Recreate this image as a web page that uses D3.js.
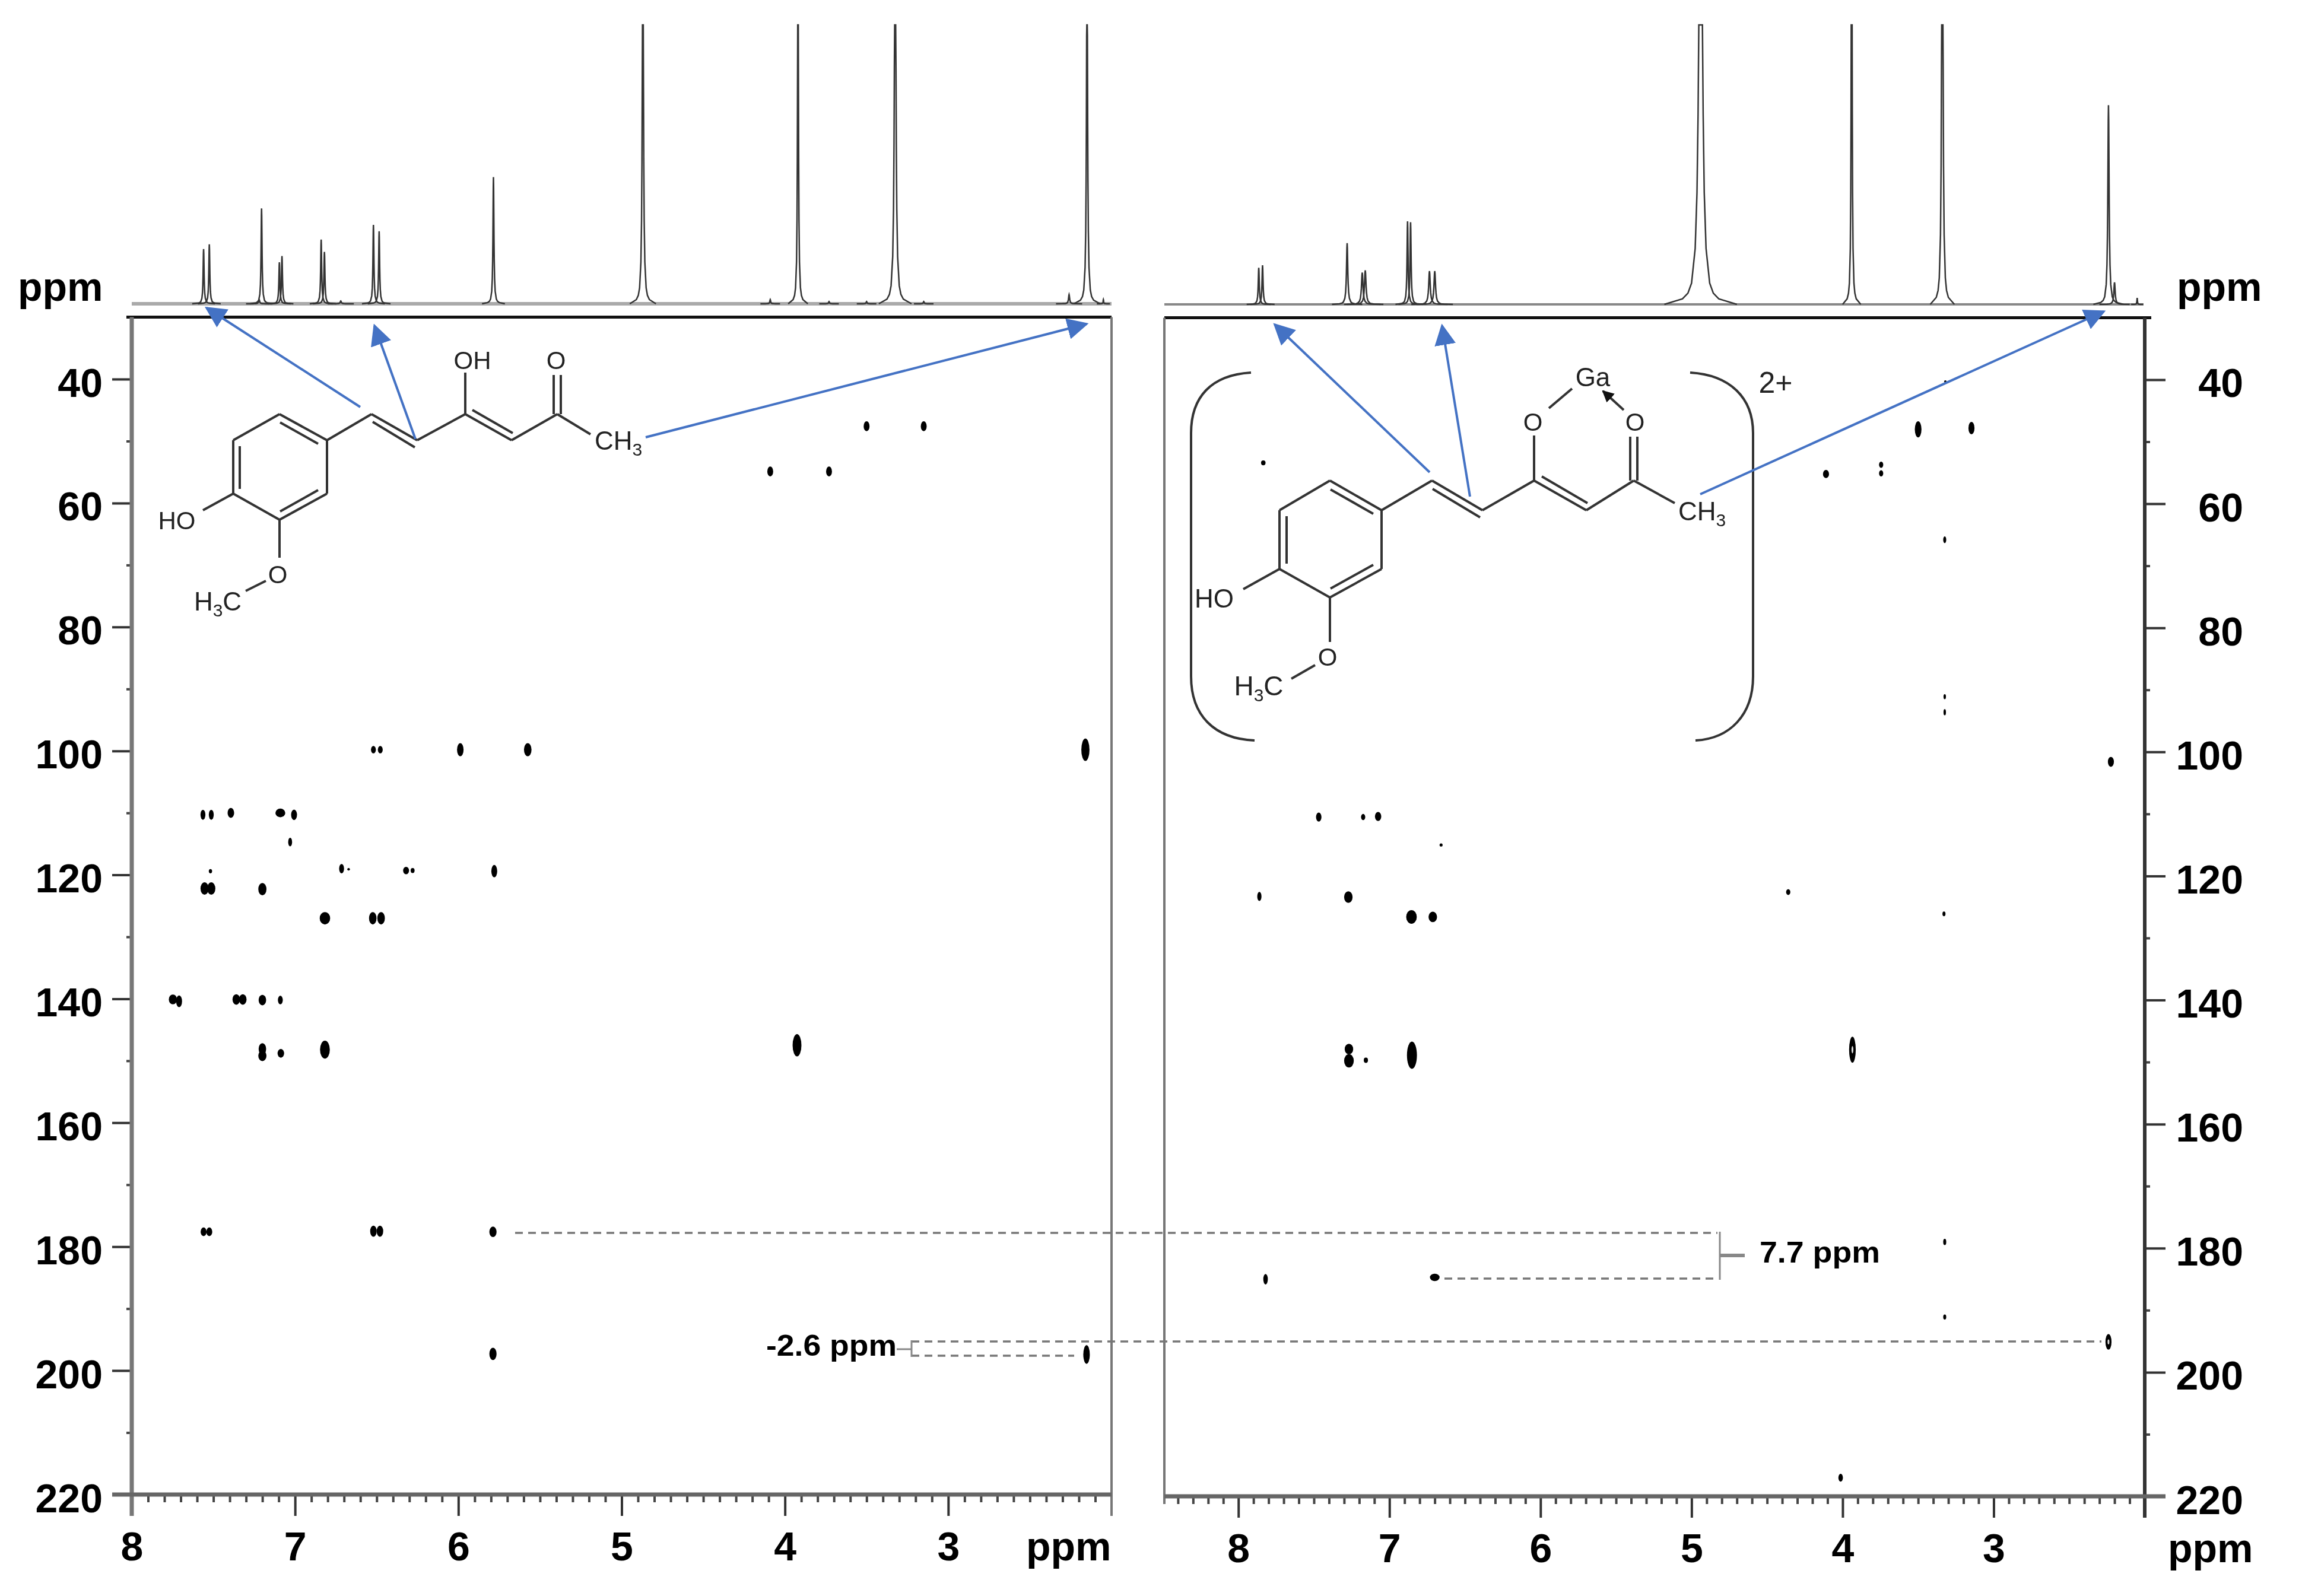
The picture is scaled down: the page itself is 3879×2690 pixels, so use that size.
<!DOCTYPE html>
<html>
<head>
<meta charset="utf-8">
<script src="https://cdn.jsdelivr.net/npm/d3@7"></script>
<style>
html, body { margin: 0; padding: 0; background: #fff; }
svg { display: block; filter: blur(0.7px); }
text { font-family: "Liberation Sans", Arial, sans-serif; fill: #000; }
.num { font-size: 68px; font-weight: 700; }
.atom { font-size: 42px; fill: #222; }
.note { font-size: 50px; font-weight: 700; }
</style>
</head>
<body>
<div id="chart"></div>
<script>
// tick labels
var xLabels = [8, 7, 6, 5, 4, 3];
var yLabels = [40, 60, 80, 100, 120, 140, 160, 180, 200, 220];
var yMinor = [50, 70, 90, 110, 130, 150, 170, 190, 210];

// 1H traces: [ppm, height (100 = top of the strip), half width in ppm]
var leftProton = [
    [7.56, 19.6, .0035], [7.525, 21.3, .0035], [7.22, 1.5, .004], [7.205, 34.2, .0035],
    [7.096, 14.9, .0035], [7.08, 17.1, .0035], [6.84, 23, .0035], [6.82, 18.6, .0035],
    [6.72, 1, .004], [6.52, 28.3, .0035], [6.485, 26, .0035], [5.785, 45.4, .0035],
    [4.87, 150, .004], [4.09, 1.5, .003], [3.92, 150, .003], [3.73, .8, .003],
    [3.5, .8, .003], [3.325, 170, .005], [3.15, .8, .003], [2.26, 3.3, .004],
    [2.15, 130, .004], [2.05, 1.5, .002]
];
var rightProton = [
    [7.865, 13.1, .004], [7.84, 14, .004], [7.28, 21.9, .005], [7.18, 11.4, .006],
    [7.16, 12.2, .006], [6.88, 29.7, .004], [6.86, 29.4, .004], [6.735, 11.9, .006],
    [6.7, 11.9, .006], [4.94, 200, .012], [3.94, 200, .003], [3.34, 250, .004],
    [2.24, 71.3, .005], [2.2, 7.9, .005], [2.05, 2.3, .002]
];

// HMBC cross peaks: [1H ppm, 13C ppm, half width 1H, half width 13C]
var leftCross = [
    [3.5, 47.6, .018, .8], [3.15, 47.6, .018, .8], [4.09, 54.9, .018, .8], [3.73, 54.9, .018, .8],
    [6.52, 99.8, .015, .6], [6.478, 99.8, .015, .6], [5.988, 99.8, .02, 1.07], [5.575, 99.8, .023, 1.07],
    [2.16, 99.8, .025, 1.8],
    [7.564, 110.3, .015, .8], [7.513, 110.3, .015, .8], [7.393, 110, .02, .8], [7.09, 110, .03, .7],
    [7.006, 110.3, .018, .85], [7.03, 114.7, .012, .7],
    [7.518, 119.4, .01, .35], [6.715, 119, .015, .75], [6.672, 119.1, .008, .2],
    [6.32, 119.3, .018, .6], [6.28, 119.3, .012, .4], [5.78, 119.4, .018, 1],
    [7.554, 122.2, .025, 1], [7.513, 122.2, .025, 1], [7.2, 122.3, .025, 1],
    [6.817, 127, .032, 1], [6.524, 127, .023, 1], [6.473, 127, .023, 1],
    [7.748, 140.1, .025, .8], [7.71, 140.4, .018, .95], [7.36, 140.1, .023, .85], [7.32, 140.1, .023, .85],
    [7.2, 140.2, .023, .85], [7.09, 140.2, .015, .7],
    [7.2, 148.1, .023, .95], [7.2, 149.2, .025, .85], [7.087, 148.8, .02, .7], [6.817, 148.2, .03, 1.45],
    [3.926, 147.5, .027, 1.8],
    [7.56, 177.6, .018, .7], [7.525, 177.6, .018, .7], [6.52, 177.5, .02, .9], [6.48, 177.5, .02, .9],
    [5.788, 177.6, .022, .85], [5.788, 197.3, .022, 1], [2.153, 197.4, .02, 1.5]
];
var rightCross = [
    [3.32, 40.3, .008, .2], [3.5, 48, .022, 1.3], [3.147, 47.8, .02, 1], [7.835, 53.4, .015, .4],
    [4.11, 55.2, .02, .65], [3.745, 53.7, .014, .5], [3.745, 55.1, .014, .5], [3.324, 65.8, .01, .55],
    [3.324, 91.1, .008, .4], [3.324, 93.6, .008, .5], [2.224, 101.6, .02, .8],
    [7.468, 110.5, .018, .73], [7.174, 110.5, .014, .5], [7.075, 110.4, .021, .73], [6.658, 115, .01, .26],
    [7.861, 123.3, .014, .73], [7.272, 123.4, .028, .94], [4.36, 122.6, .014, .47], [3.329, 126.1, .01, .38],
    [6.854, 126.6, .035, 1.1], [6.713, 126.6, .028, .85],
    [7.268, 147.9, .028, .85], [7.268, 149.8, .032, 1.07], [7.156, 149.7, .014, .43], [6.851, 148.9, .033, 2.2],
    [3.935, 148, .022, 2.1],
    [3.324, 179, .01, .5], [7.82, 185, .015, .85], [6.7, 184.7, .032, .6], [3.324, 191.1, .01, .42],
    [2.24, 195.1, .02, 1.26], [4.013, 217, .015, .63]
];
// open centres of the two ring shaped contours
var rightHoles = [[3.935, 148, .006, .6], [2.24, 195.1, .006, .4]];

// shape of one NMR line: [offset in half widths, fraction of height]
var lineShape = [
    [-20, 0], [-10, .01], [-7, .02], [-5, .038], [-3, .1], [-2, .2], [-1.4, .34], [-1, .5],
    [-.6, .74], [-.3, .92], [0, 1], [.3, .92], [.6, .74], [1, .5], [1.4, .34], [2, .2], [3, .1],
    [5, .038], [7, .02], [10, .01], [20, 0]
];

var svg = d3.select("#chart").append("svg")
    .attr("width", 3879)
    .attr("height", 2690)
    .attr("viewBox", "0 0 3879 2690")
    .style("background-color", "#fff");

var defs = svg.append("defs");
function headMarker(id, colour, size) {
    defs.append("marker")
        .attr("id", id)
        .attr("markerUnits", "userSpaceOnUse")
        .attr("viewBox", "0 0 10 10")
        .attr("refX", 9)
        .attr("refY", 5)
        .attr("markerWidth", size)
        .attr("markerHeight", size)
        .attr("orient", "auto")
        .append("path")
        .attr("d", "M0,0L10,5L0,10Z")
        .attr("fill", colour);
}
headMarker("blueHead", "#4472c4", 36);
headMarker("blackHead", "#111", 20);

///////////Panels////////////
function drawPanel(p) {
    var x = d3.scaleLinear().domain(p.xDomain).range(p.xRange);
    var y = d3.scaleLinear().domain([30, 220]).range(p.yRange);
    var top = d3.scaleLinear().domain([0, 100]).range(p.topRange).clamp(true);
    var bottom = p.yRange[1];

    var g = svg.append("g");

    // 1D trace on top
    g.append("line")
        .attr("x1", p.xRange[0]).attr("x2", p.baseEnd)
        .attr("y1", top(0)).attr("y2", top(0))
        .attr("stroke", p.baseColour).attr("stroke-width", p.baseWidth);

    var peakLine = d3.line()
        .x(function (d) { return x(d[0]); })
        .y(function (d) { return top(d[1]); });

    g.selectAll(".peak")
        .data(p.proton)
        .enter().append("path")
        .attr("class", "peak")
        .attr("fill", "none")
        .attr("stroke", "#333")
        .attr("stroke-width", 2.5)
        .attr("d", function (d) {
            return peakLine(lineShape.map(function (s) {
                return [d[0] + s[0] * d[2], s[1] * d[1]];
            }));
        });

    // cross peaks
    function contours(data, cls, colour) {
        g.selectAll("." + cls)
            .data(data)
            .enter().append("ellipse")
            .attr("class", cls)
            .attr("cx", function (d) { return x(d[0]); })
            .attr("cy", function (d) { return y(d[1]); })
            .attr("rx", function (d) { return Math.abs(x(d[0] + d[2]) - x(d[0])); })
            .attr("ry", function (d) { return Math.abs(y(d[1] + d[3]) - y(d[1])); })
            .attr("fill", colour);
    }
    contours(p.cross, "cross", "#000");
    contours(p.holes, "hole", "#ddd");

    // axes
    var minor = d3.range(p.minorFrom, p.minorTo, 1).map(function (d) { return d / 10; })
        .filter(function (d) { return xLabels.indexOf(d) < 0; });

    g.append("g")
        .attr("transform", "translate(0," + bottom + ")")
        .call(d3.axisBottom(x).tickValues(minor).tickSize(13).tickFormat(""))
        .call(function (a) { a.select(".domain").remove(); })
        .selectAll("line").attr("stroke", "#444").attr("stroke-width", 4);

    g.append("g")
        .attr("transform", "translate(0," + bottom + ")")
        .call(d3.axisBottom(x).tickValues(xLabels).tickSize(36).tickFormat(d3.format("d")))
        .call(function (a) { a.select(".domain").remove(); })
        .call(function (a) {
            a.selectAll("line").attr("stroke", "#333").attr("stroke-width", 4);
            a.selectAll("text").attr("class", "num").attr("y", 111).attr("dy", 0);
        });

    var side = p.yAxisRight ? d3.axisRight(y) : d3.axisLeft(y);
    g.append("g")
        .attr("transform", "translate(" + p.yAxisAt + ",0)")
        .call(side.tickValues(yLabels).tickSize(p.yTick).tickPadding(16))
        .call(function (a) { a.select(".domain").remove(); })
        .call(function (a) {
            a.selectAll("line").attr("stroke", "#333").attr("stroke-width", 4);
            a.selectAll("text").attr("class", "num").attr("dy", 29)
                .attr("text-anchor", "end").attr("x", p.yLabelEnd);
        });

    var sideMinor = p.yAxisRight ? d3.axisRight(y) : d3.axisLeft(y);
    g.append("g")
        .attr("transform", "translate(" + p.yAxisAt + ",0)")
        .call(sideMinor.tickValues(yMinor).tickSize(9).tickFormat(""))
        .call(function (a) { a.select(".domain").remove(); })
        .selectAll("line").attr("stroke", "#444").attr("stroke-width", 4);

    // frame
    var frame = g.append("g");
    function seg(x1, y1, x2, y2, colour, w) {
        frame.append("line")
            .attr("x1", x1).attr("y1", y1).attr("x2", x2).attr("y2", y2)
            .attr("stroke", colour).attr("stroke-width", w);
    }
    p.frame.forEach(function (f) {
        seg(f[0], f[1], f[2], f[3], f[4], f[5]);
    });
}

drawPanel({
    xDomain: [8, 2], xRange: [222, 1873], yRange: [534.6, 2519], topRange: [512, 42],
    baseEnd: 1873, baseColour: "#aaa", baseWidth: 6,
    proton: leftProton, cross: leftCross, holes: [],
    minorFrom: 21, minorTo: 80,
    yAxisRight: false, yAxisAt: 222, yTick: 33, yLabelEnd: -49,
    frame: [
        [213, 534.6, 1873, 534.6, "#111", 5],
        [222, 534.6, 222, 2555, "#777", 7],
        [1873, 534.6, 1873, 2555, "#777", 4],
        [189, 2519, 1873, 2519, "#666", 7]
    ]
});

drawPanel({
    xDomain: [8.49, 2], xRange: [1962, 3614], yRange: [535.4, 2522], topRange: [513, 42],
    baseEnd: 3612, baseColour: "#888", baseWidth: 4,
    proton: rightProton, cross: rightCross, holes: rightHoles,
    minorFrom: 21, minorTo: 85,
    yAxisRight: true, yAxisAt: 3614, yTick: 35, yLabelEnd: 166,
    frame: [
        [1962, 535.4, 3625, 535.4, "#111", 5],
        [1962, 535.4, 1962, 2535, "#777", 4],
        [3614, 535.4, 3614, 2558, "#333", 6],
        [1962, 2522, 3649, 2522, "#666", 7]
    ]
});

// ppm captions
var captions = [[30, 507], [3668, 507], [1729, 2630], [3653, 2633]];
svg.selectAll(".cap")
    .data(captions)
    .enter().append("text")
    .attr("class", "num cap")
    .attr("x", function (d) { return d[0]; })
    .attr("y", function (d) { return d[1]; })
    .text("ppm");

///////////Molecules////////////
var bonds = svg.append("g")
    .attr("stroke", "#333")
    .attr("stroke-width", 4)
    .attr("fill", "none");

function bondLines(list) {
    list.forEach(function (b) {
        bonds.append("line")
            .attr("x1", b[0]).attr("y1", b[1]).attr("x2", b[2]).attr("y2", b[3]);
    });
}

// left: free ligand
bondLines([
    [471, 698, 551, 742], [551, 742, 551, 832], [551, 832, 471, 876], [471, 876, 393, 832],
    [393, 832, 393, 742], [393, 742, 471, 698],
    [472, 712, 536, 748], [404, 752, 404, 824], [472, 862, 536, 826],
    [551, 742, 626, 698], [626, 698, 703, 742], [628, 711, 699, 754], [703, 742, 784, 698],
    [784, 698, 862, 742], [796, 691, 864, 730], [862, 742, 939, 698], [939, 698, 995, 732],
    [784, 698, 784, 628], [933, 698, 933, 632], [945, 698, 945, 632],
    [393, 832, 342, 860], [471, 876, 471, 940], [448, 979, 414, 996]
]);

// right: Ga complex
bondLines([
    [2241, 810, 2328, 860], [2328, 860, 2328, 959], [2328, 959, 2241, 1007], [2241, 1007, 2156, 959],
    [2156, 959, 2156, 860], [2156, 860, 2241, 810],
    [2242, 825, 2314, 866], [2168, 870, 2168, 950], [2242, 992, 2314, 952],
    [2328, 860, 2413, 810], [2413, 810, 2498, 860], [2414, 824, 2494, 872], [2498, 860, 2585, 810],
    [2585, 810, 2673, 860], [2598, 803, 2675, 848], [2673, 860, 2753, 810], [2753, 810, 2822, 848],
    [2585, 810, 2585, 734], [2747, 810, 2747, 736], [2759, 810, 2759, 736],
    [2156, 959, 2095, 993], [2241, 1007, 2241, 1082], [2216, 1121, 2176, 1144],
    [2610, 688, 2649, 655]
]);

// Ga bracket pair
var brackets = ["M2108,628C2040,632 2007,670 2007,730L2007,1140C2007,1205 2045,1245 2114,1248",
    "M2848,628C2915,632 2954,670 2954,730L2954,1140C2954,1205 2915,1245 2857,1248"];
bonds.selectAll(".bracket")
    .data(brackets)
    .enter().append("path")
    .attr("class", "bracket")
    .attr("d", function (d) { return d; });

bonds.append("line")
    .attr("x1", 2736).attr("y1", 691).attr("x2", 2701).attr("y2", 659)
    .attr("marker-end", "url(#blackHead)");

function atom(cx, baseline, parts, size) {
    var big = size || 42;
    var t = svg.append("text").attr("class", "atom")
        .attr("x", cx).attr("y", baseline).attr("text-anchor", "middle");
    parts.forEach(function (s) {
        var sub = /^\d$/.test(s);
        t.append("tspan")
            .attr("font-size", sub ? 30 : big)
            .attr("dy", sub ? 10 : (t.selectAll("tspan").size() > 1 ? -10 : 0))
            .text(s);
    });
}

atom(796, 622, ["OH"]);
atom(937, 622, ["O"]);
atom(1042, 758, ["CH", "3"], 44);
atom(298, 892, ["HO"]);
atom(468, 983, ["O"]);
atom(367, 1029, ["H", "3", "C"], 44);

atom(2583, 726, ["O"]);
atom(2755, 726, ["O"]);
atom(2684, 651, ["Ga"], 44);
atom(2868, 877, ["CH", "3"], 44);
atom(2046, 1024, ["HO"], 44);
atom(2237, 1122, ["O"]);
atom(2121, 1172, ["H", "3", "C"], 46);
atom(2992, 662, ["2+"], 50);

///////////Assignment arrows////////////
var arrows = [
    [607, 686, 348, 519], [700, 740, 631, 549], [1088, 737, 1831, 546],
    [2409, 796, 2148, 547], [2477, 837, 2430, 549], [2865, 833, 3545, 525]
];
svg.selectAll(".assign")
    .data(arrows)
    .enter().append("line")
    .attr("class", "assign")
    .attr("x1", function (d) { return d[0]; })
    .attr("y1", function (d) { return d[1]; })
    .attr("x2", function (d) { return d[2]; })
    .attr("y2", function (d) { return d[3]; })
    .attr("stroke", "#4472c4")
    .attr("stroke-width", 4)
    .attr("marker-end", "url(#blueHead)");

///////////Shift brackets////////////
var dashed = [
    [868, 2078, 2894, 2078], [2434, 2155, 2894, 2155],
    [1536, 2261, 3541, 2261], [1536, 2285, 1810, 2285]
];
svg.selectAll(".dash")
    .data(dashed)
    .enter().append("line")
    .attr("class", "dash")
    .attr("x1", function (d) { return d[0]; })
    .attr("y1", function (d) { return d[1]; })
    .attr("x2", function (d) { return d[2]; })
    .attr("y2", function (d) { return d[3]; })
    .attr("stroke", "#777")
    .attr("stroke-width", 3.5)
    .attr("stroke-dasharray", "13 9");

var solid = [
    [2898, 2076, 2898, 2157, 3], [2898, 2116, 2940, 2116, 6],
    [1536, 2259, 1536, 2287, 3], [1511, 2274, 1536, 2274, 3]
];
svg.selectAll(".brace")
    .data(solid)
    .enter().append("line")
    .attr("class", "brace")
    .attr("x1", function (d) { return d[0]; })
    .attr("y1", function (d) { return d[1]; })
    .attr("x2", function (d) { return d[2]; })
    .attr("y2", function (d) { return d[3]; })
    .attr("stroke", "#888")
    .attr("stroke-width", function (d) { return d[4]; });

svg.append("text").attr("class", "note").attr("x", 2965).attr("y", 2128)
    .attr("textLength", 203).attr("lengthAdjust", "spacingAndGlyphs").text("7.7 ppm");
svg.append("text").attr("class", "note").attr("x", 1291).attr("y", 2285)
    .attr("textLength", 220).attr("lengthAdjust", "spacingAndGlyphs").text("-2.6 ppm");
</script>
</body>
</html>
